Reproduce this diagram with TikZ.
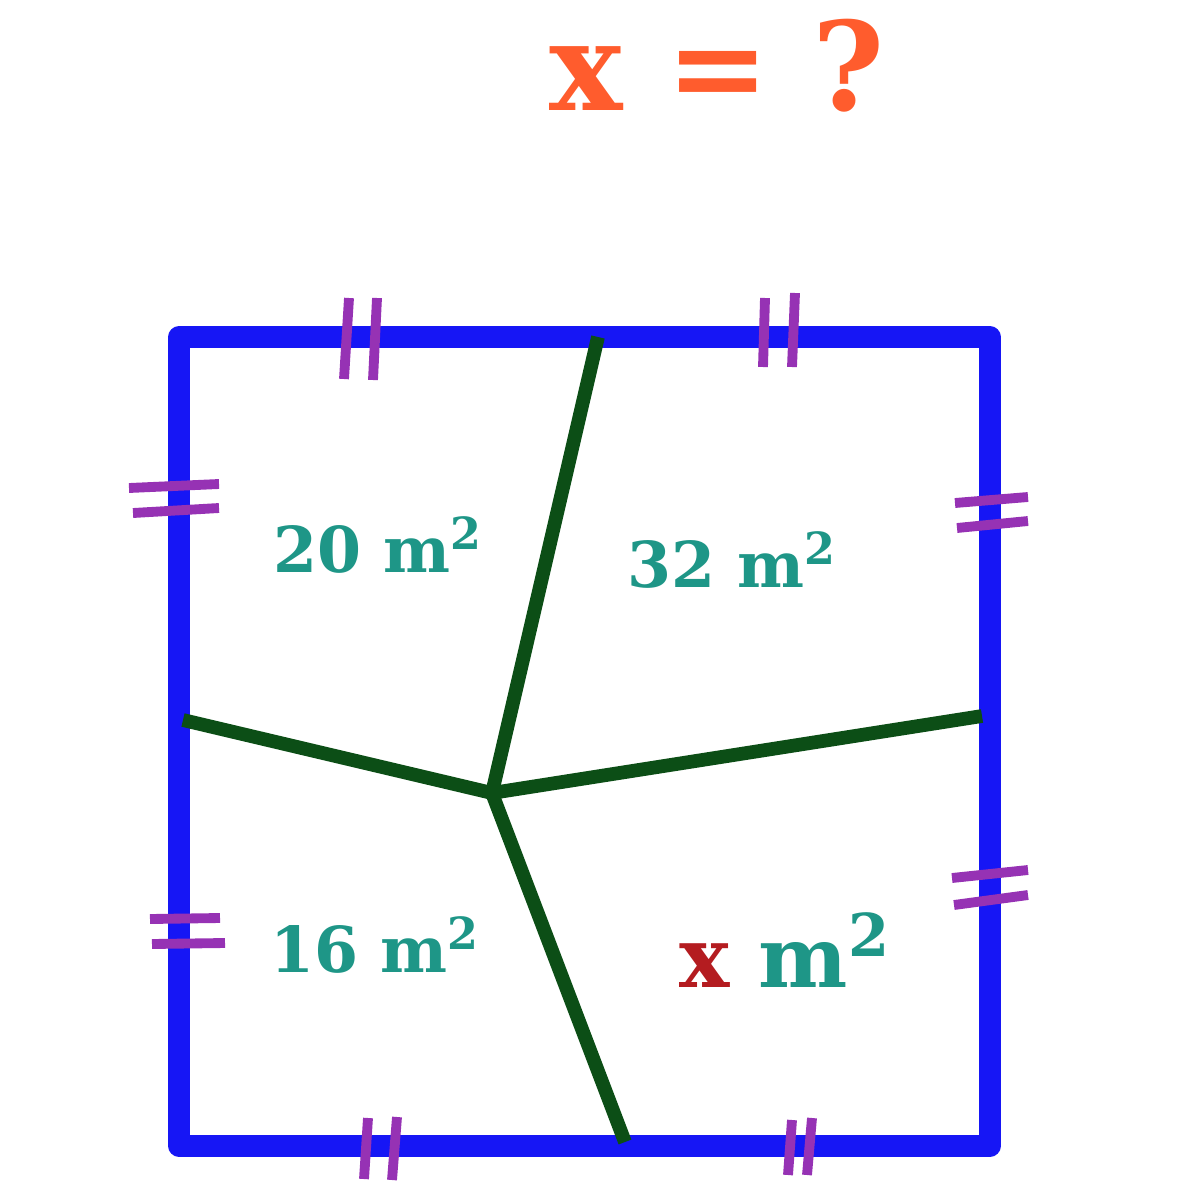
\documentclass[tikz,border=0pt]{standalone}
\usepackage{fontspec}
\setmainfont{DejaVu Serif}
\definecolor{sqblue}{RGB}{22,22,245}
\definecolor{tickpurple}{RGB}{150,50,180}
\definecolor{wallgreen}{RGB}{12,78,22}
\definecolor{areateal}{RGB}{30,150,135}
\definecolor{unkred}{RGB}{180,28,32}
\definecolor{titleorange}{RGB}{255,92,45}
\tikzset{
  side/.style={draw=sqblue,line width=6pt,line join=round},
  wall/.style={draw=wallgreen,line width=3.9pt},
  tickmark/.style={draw=tickpurple,line width=2.8pt},
  area/.style={text=areateal,font=\bfseries\fontsize{18}{20}\selectfont,inner sep=0pt}
}
\begin{document}
\begin{tikzpicture}[x=0.01cm,y=-0.01cm]
        \useasboundingbox(0,0)rectangle(1181,1200);
        \node(title)at(717,110)[anchor=base,text=titleorange,font=\bfseries\fontsize{35}{40}\selectfont,inner sep=0pt]{x = ?};
        \coordinate(tl)at(179,337);
        \coordinate(tr)at(990,337);
        \coordinate(br)at(990,1146);
        \coordinate(bl)at(179,1146);
        \draw[side](tl)--(tr)--(br)--(bl)--cycle;
        \coordinate(o)at(492,793);
        \coordinate(t)at(598,337);
        \coordinate(l)at(183,720);
        \coordinate(r)at(982,716);
        \coordinate(b)at(625,1142);
        \draw[wall](o)--(t);
        \draw[wall](o)--(l);
        \draw[wall](o)--(r);
        \draw[wall](o)--(b);
        % equal side marks
        \draw[tickmark](349,298)--(344,379);
        \draw[tickmark](377,298)--(373,380);
        \draw[tickmark](765,298)--(763,367);
        \draw[tickmark](795,293)--(792,367);
        \draw[tickmark](129,488)--(219,484);
        \draw[tickmark](133,513)--(219,508);
        \draw[tickmark](150,919)--(220,918);
        \draw[tickmark](152,944)--(225,943);
        \draw[tickmark](955,503)--(1028,497);
        \draw[tickmark](957,528)--(1028,521);
        \draw[tickmark](952,878)--(1028,870);
        \draw[tickmark](954,905)--(1028,895);
        \draw[tickmark](368,1118)--(364,1179);
        \draw[tickmark](397,1117)--(392,1180);
        \draw[tickmark](792,1120)--(788,1175);
        \draw[tickmark](812,1118)--(807,1175);
        \node(a1)at(378,545)[area]{20 m\textsuperscript{2}};
        \node(a2)at(732,560)[area]{32 m\textsuperscript{2}};
        \node(a3)at(375,945)[area]{16 m\textsuperscript{2}};
        \node(a4)at(785,950)[area,font=\bfseries\fontsize{24}{26}\selectfont]{\textcolor{unkred}{x} m\textsuperscript{2}};
\end{tikzpicture}
\end{document}
